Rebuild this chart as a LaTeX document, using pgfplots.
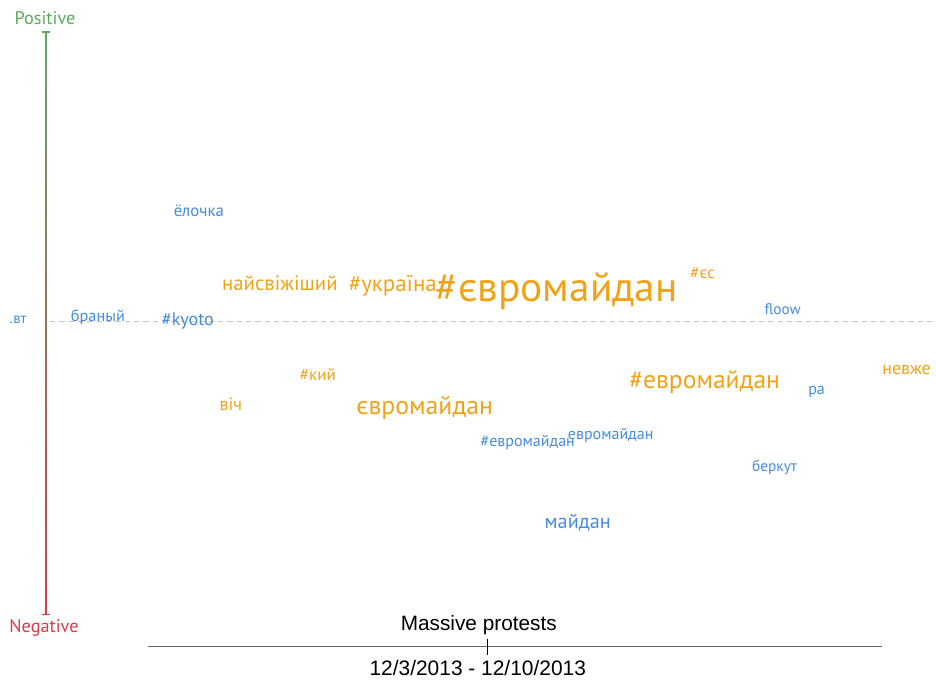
\documentclass[border=0pt]{standalone}
\usepackage{pgfplots}
\pgfplotsset{compat=1.18}
\usepackage{fontspec}
\setmainfont{PT Sans}
\newfontfamily\lib{Liberation Sans}
\definecolor{wblue}{RGB}{70,140,220}
\definecolor{worange}{RGB}{240,163,25}
\definecolor{pgreen}{RGB}{95,170,95}
\definecolor{nred}{RGB}{215,60,75}
\pgfplotsset{word/.style 2 args={draw=none, mark=none, nodes near coords,
  point meta=explicit symbolic,
  every node near coord/.append style={anchor=center, inner sep=0pt,
    font=\fontsize{#2pt}{#2pt}\selectfont, text=#1}}}
\begin{document}
\begin{tikzpicture}
\begin{axis}[hide axis, scale only axis, width=702pt, height=509.25pt,
  xmin=0, xmax=936, ymin=0, ymax=679, clip=false]
% sentiment axis
\addplot[mesh, point meta=y, colormap={pn}{color=(nred) color=(pgreen)}, line width=1.3pt]
 coordinates {(46,64)(46,93)(46,122)(46,151)(46,180)(46,209)(46,238)(46,267)(46,296)(46,325)(46,354)(46,383)(46,412)(46,441)(46,470)(46,499)(46,528)(46,557)(46,586)(46,615)(46,647)};
\addplot[pgreen, line width=1pt] coordinates {(42,647)(50,647)};
\addplot[nred, line width=1pt] coordinates {(42,64)(50,64)};
% neutral dashed line
\addplot[gray!45, line width=0.7pt, dash pattern=on 4pt off 3pt] coordinates {(50,357)(936,357)};
% timeline
\addplot[gray!80!black, line width=1.1pt] coordinates {(148,32)(882,32)};
\addplot[black, line width=0.6pt] coordinates {(488,40)(488,24)};
% words
\addplot[word={wblue}{11}] coordinates {(18,359)[.вт]};
\addplot[word={wblue}{12.2}] coordinates {(98,362)[браный]};
\addplot[word={wblue}{13.6}] coordinates {(188,358)[\#kyoto]};
\addplot[word={wblue}{12.6}] coordinates {(199,468)[ёлочка]};
\addplot[word={worange}{15.6}] coordinates {(280,396)[найсвіжіший]};
\addplot[word={worange}{17.2}] coordinates {(393,393)[\#україна]};
\addplot[word={worange}{31}] coordinates {(557,388)[\#євромайдан]};
\addplot[word={worange}{12.5}] coordinates {(703,406)[\#єс]};
\addplot[word={wblue}{11.4}] coordinates {(783,370)[floow]};
\addplot[word={worange}{13.4}] coordinates {(907,309)[невже]};
\addplot[word={wblue}{12}] coordinates {(817,287)[ра]};
\addplot[word={worange}{19.2}] coordinates {(705,297)[\#евромайдан]};
\addplot[word={worange}{12.8}] coordinates {(318,304)[\#кий]};
\addplot[word={worange}{13.4}] coordinates {(231,275)[віч]};
\addplot[word={worange}{19.3}] coordinates {(425,271)[євромайдан]};
\addplot[word={wblue}{12}] coordinates {(528,236)[\#евромайдан]};
\addplot[word={wblue}{12}] coordinates {(611,243)[евромайдан]};
\addplot[word={wblue}{11.5}] coordinates {(775,211)[беркут]};
\addplot[word={wblue}{15.2}] coordinates {(578,156)[майдан]};
\node[pgreen, font=\fontsize{13.7pt}{13.7pt}\selectfont] at (axis cs:45,661) {Positive};
\node[nred, font=\fontsize{13.7pt}{13.7pt}\selectfont] at (axis cs:44,51) {Negative};
\node[font=\lib\fontsize{15.6pt}{15.6pt}\selectfont] at (axis cs:479,54) {Massive protests};
\node[font=\lib\fontsize{15.7pt}{15.7pt}\selectfont] at (axis cs:478,11) {12/3/2013 - 12/10/2013};
\path (rel axis cs:0,0) rectangle (rel axis cs:1,1);
\end{axis}
\end{tikzpicture}
\end{document}
